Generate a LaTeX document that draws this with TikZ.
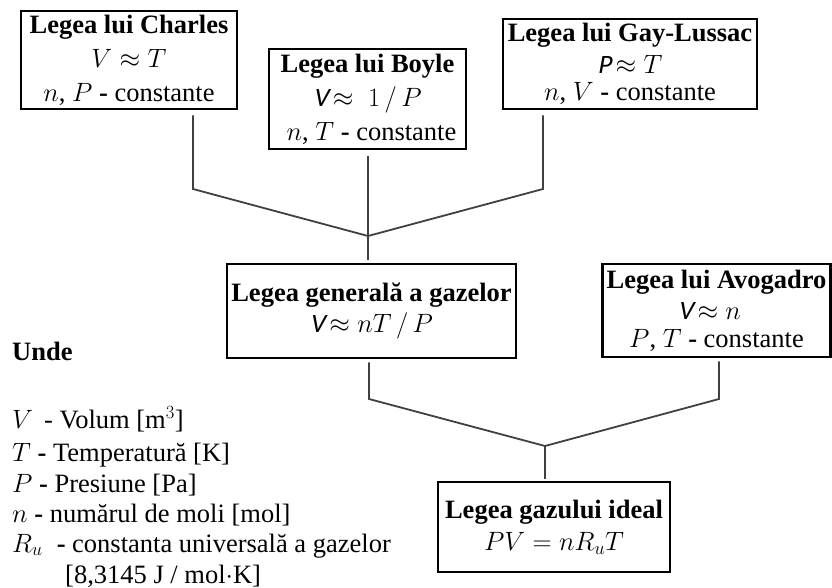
\documentclass[tikz,border=0pt]{standalone}
\usepackage{fix-cm}
\usepackage{fontspec}
\setmainfont{Liberation Serif}
\newfontfamily\calib[FakeSlant=0.18]{Carlito}
\newcommand\sv[1]{{\calib #1}}
\newcommand\bsz[1]{\fontsize{26.5}{#1}\selectfont}
\begin{document}
\begin{tikzpicture}[x=1pt,y=-1pt,
  lawbox/.style={draw=black, line width=2.6pt, align=center, inner sep=0pt, fill=white},
  conn/.style={draw=black!75, line width=1.8pt, line join=miter},
  legend/.style={anchor=base west, inner sep=0pt, font=\bsz{30}}]
\useasboundingbox (0,0) rectangle (832,588);

% boxes
\node[lawbox, minimum width=216pt, minimum height=98pt, font=\bsz{34}] (charles) at (129,60)
  {\textbf{Legea lui Charles}\\ $V \approx T$\\ $n$, $P$ \textbf{-} constante};
\node[lawbox, minimum width=197pt, minimum height=100pt, font=\bsz{34}] (boyle) at (367.5,99)
  {\textbf{Legea lui Boyle}\\ \sv{V}\,$\approx\; 1\,/\,P$\\ \hspace*{8pt}$n$, $T$ \textbf{-} constante};
\node[lawbox, minimum width=254pt, minimum height=90pt, font=\bsz{27}] (gay) at (630,64)
  {\textbf{Legea lui Gay-Lussac}\\[5pt] \sv{P}\,$\approx T$\\ $n$, $V$ \textbf{-} constante};
\node[lawbox, minimum width=289pt, minimum height=94pt, font=\bsz{31}] (general) at (371.5,311)
  {\textbf{Legea general\u{a} a gazelor}\\ \sv{V}\,$\approx nT\,/\,P$};
\node[lawbox, minimum width=228pt, minimum height=93pt, font=\bsz{28}] (avogadro) at (716.5,310.5)
  {\textbf{Legea lui Avogadro}\\[3pt] \hspace*{-14pt}\sv{V}\,$\approx n$\\ $P$, $T$ \textbf{-} constante};
\node[lawbox, minimum width=232pt, minimum height=90pt, font=\bsz{32}] (ideal) at (554,527)
  {\textbf{Legea gazului ideal}\\ $PV = nR_uT$};

% junction coordinates
\coordinate (jl1) at (193,189);
\coordinate (jr1) at (543,189);
\coordinate (j1)  at (368,236);
\coordinate (jl2) at (369,399);
\coordinate (jr2) at (719,399);
\coordinate (j2)  at (545,446);

% connectors
\draw[conn] ([yshift=-5pt]charles.south -| jl1) -- (jl1) -- (j1);
\draw[conn] ([yshift=-5pt]gay.south -| jr1) -- (jr1) -- (j1);
\draw[conn] ([yshift=-6pt]boyle.south -| j1) -- (j1) -- ([yshift=3pt]j1 |- general.north);
\draw[conn] ([yshift=-3pt]general.south -| jl2) -- (jl2) -- (j2);
\draw[conn] ([yshift=-3pt]avogadro.south -| jr2) -- (jr2) -- (j2);
\draw[conn] (j2) -- ([yshift=2pt]j2 |- ideal.north);

% legend
\node[legend] (unde) at (12,360) {\textbf{Unde}};
\node[legend] (lv) at (12,428) {$V$\, - Volum [m$^{3}$]};
\node[legend] (lt) at (12,461) {$T$ \textbf{-} Temperatur\u{a} [K]};
\node[legend] (lp) at (12,492) {$P$ \textbf{-} Presiune [Pa]};
\node[legend] (ln) at (12,522) {$n$ \textbf{-} num\u{a}rul de moli [mol]};
\node[legend] (lr) at (12,552) {$R_u$\; \textbf{-} constanta universal\u{a} a gazelor};
\node[legend] (lr2) at (65,583) {[8,3145 J / mol$\cdot$K]};
\end{tikzpicture}
\end{document}
